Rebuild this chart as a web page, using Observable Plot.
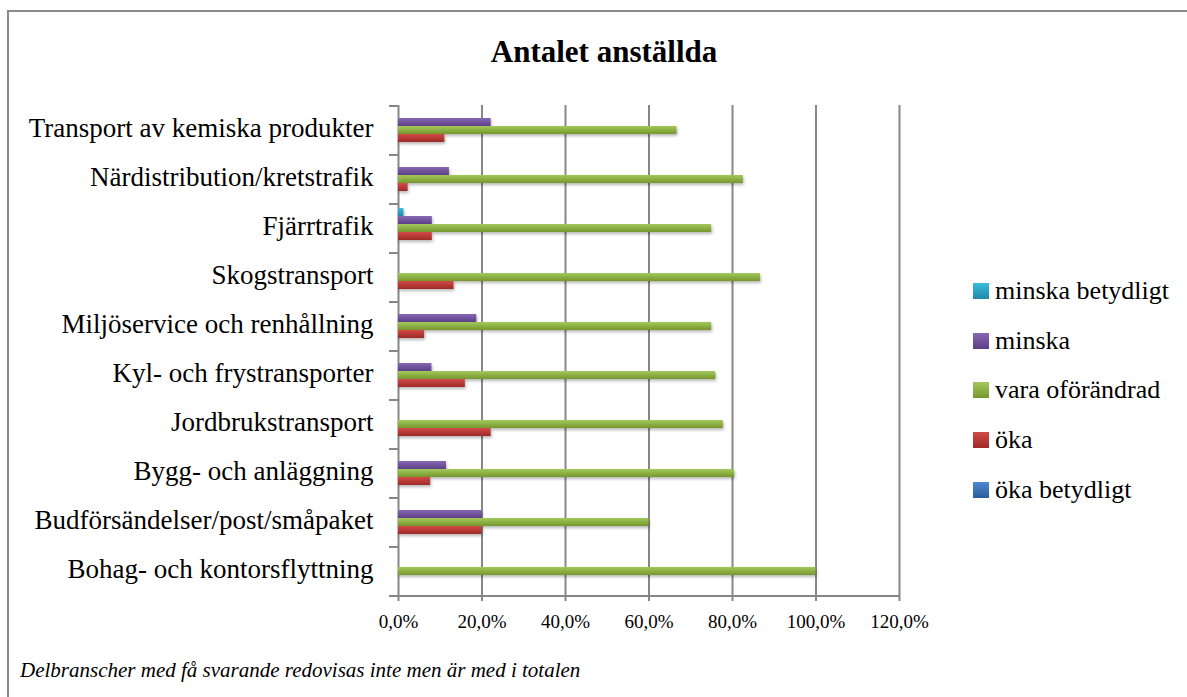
<!DOCTYPE html>
<html>
<head>
<meta charset="utf-8">
<script src="https://cdn.jsdelivr.net/npm/d3@7"></script>
<script src="https://cdn.jsdelivr.net/npm/@observablehq/plot@0.6"></script>
<style>
  body { margin: 0; background: #fff; }
  #page { position: relative; width: 1187px; height: 697px; overflow: hidden; background: #fff; }
  #frame { position: absolute; left: 7px; top: 10px; width: 1190px; height: 700px; border-top: 2px solid #8a8a8a; border-left: 2px solid #8a8a8a; box-sizing: border-box; }
  #title { position: absolute; left: 0; width: 1208px; top: 34px; text-align: center; font: bold 31px "Liberation Serif", serif; color: #000; }
  #chart { position: absolute; left: 0; top: 0; }
  #legend { position: absolute; left: 973px; top: 266px; font: 26px "Liberation Serif", serif; color: #000; }
  .item { height: 49.8px; display: flex; align-items: center; }
  .sw { width: 16px; height: 16px; margin-right: 6px; flex: none; }
  #caption { position: absolute; left: 20px; top: 658px; font: italic 21px "Liberation Serif", serif; color: #000; }
  #defs { position: absolute; width: 0; height: 0; }
</style>
</head>
<body>
<div id="page">
  <div id="frame"></div>
  <div id="title">Antalet anställda</div>
  <div id="chart"></div>
  <div id="legend"></div>
  <div id="caption">Delbranscher med få svarande redovisas inte men är med i totalen</div>
  <svg id="defs"><defs id="gdefs"></defs></svg>
</div>
<script>
// ---- data ----
const categories = [
  "Transport av kemiska produkter",
  "Närdistribution/kretstrafik",
  "Fjärrtrafik",
  "Skogstransport",
  "Miljöservice och renhållning",
  "Kyl- och frystransporter",
  "Jordbrukstransport",
  "Bygg- och anläggning",
  "Budförsändelser/post/småpaket",
  "Bohag- och kontorsflyttning"
];
// series, top-to-bottom within each category (as in the legend)
const series = ["minska betydligt", "minska", "vara oförändrad", "öka", "öka betydligt"];
const minskaBetydligt = [0, 0, 0.013, 0, 0, 0, 0, 0, 0, 0];
const minska          = [0.222, 0.122, 0.081, 0, 0.1875, 0.08, 0, 0.115, 0.2, 0];
const varaOforandrad  = [0.667, 0.826, 0.75, 0.867, 0.75, 0.76, 0.778, 0.805, 0.6, 1.0];
const oka             = [0.111, 0.023, 0.081, 0.133, 0.0625, 0.16, 0.222, 0.077, 0.2, 0];
const okaBetydligt    = [0, 0, 0, 0, 0, 0, 0, 0, 0, 0];
const xTicks = [0, 0.2, 0.4, 0.6, 0.8, 1.0, 1.2];
const colorTop    = ["#3bbcdb", "#8767b3", "#a2c95a", "#d24a47", "#4d89d2"];
const colorBottom = ["#1f88a6", "#5c3f86", "#77972e", "#9e2a28", "#2b5c9b"];

const seriesValues = [minskaBetydligt, minska, varaOforandrad, oka, okaBetydligt];
const rows = [];
series.forEach((s, si) => categories.forEach((c, ci) => rows.push({category: c, series: s, value: seriesValues[si][ci], si})));

// gradients
const gdefs = d3.select("#gdefs");
series.forEach((s, i) => {
  const g = gdefs.append("linearGradient").attr("id", "g" + i).attr("x1", 0).attr("y1", 0).attr("x2", 0).attr("y2", 1);
  g.append("stop").attr("offset", "0%").attr("stop-color", colorTop[i]);
  g.append("stop").attr("offset", "100%").attr("stop-color", colorBottom[i]);
});

const gray = "#878787";
const serif = "Liberation Serif, serif";

const marks = [
  Plot.ruleX(xTicks, {stroke: gray, strokeWidth: 2}),
  // category boundary ticks on the left axis
  Plot.ruleY(categories.map(c => ({category: c})), {fy: "category", y: () => series[0], dy: -8.5, x1: 0, x2: 0, insetLeft: -9, stroke: gray, strokeWidth: 2}),
  // bottom axis line
  Plot.ruleY([{category: categories[categories.length - 1]}], {fy: "category", y: () => series[4], dy: 8.5, x1: 0, x2: 1.2, insetLeft: -9, stroke: gray, strokeWidth: 2}),
  ...series.map((s, i) => Plot.barX(rows.filter(d => d.si === i && d.value > 0), {
    x: "value", y: "series", fy: "category", fill: `url(#g${i})`
  })),
  Plot.axisX({anchor: "bottom", ticks: xTicks, tickSize: 6, tickPadding: 13, stroke: gray, strokeWidth: 2, strokeOpacity: 1,
    fontSize: 19, fontFamily: serif, tickFormat: d => d3.format(".1%")(d).replace(".", ","), label: null}),
  Plot.axisFy({anchor: "left", tickSize: 0, tickPadding: 25, dy: -2, fontSize: 27, fontFamily: serif, label: null})
];

const chart = Plot.plot({
  width: 960,
  height: 640,
  marginLeft: 398,
  marginRight: 61,
  marginTop: 105,
  marginBottom: 45,
  style: {background: "transparent", color: "#000", fontFamily: serif, overflow: "visible"},
  x: {domain: [0, 1.2], axis: null},
  y: {domain: series, paddingInner: 0, paddingOuter: 0.5625, axis: null},
  fy: {domain: categories, padding: 0},
  marks
});
d3.select(chart).selectAll('g[aria-label="bar"]').style("filter", "drop-shadow(1.5px 2px 1.5px rgba(0,0,0,0.28))");
document.getElementById("chart").appendChild(chart);

// legend
const legend = d3.select("#legend");
series.forEach((s, i) => {
  const it = legend.append("div").attr("class", "item");
  it.append("div").attr("class", "sw").style("background", `linear-gradient(${colorTop[i]}, ${colorBottom[i]})`);
  it.append("span").text(s);
});
</script>
</body>
</html>
